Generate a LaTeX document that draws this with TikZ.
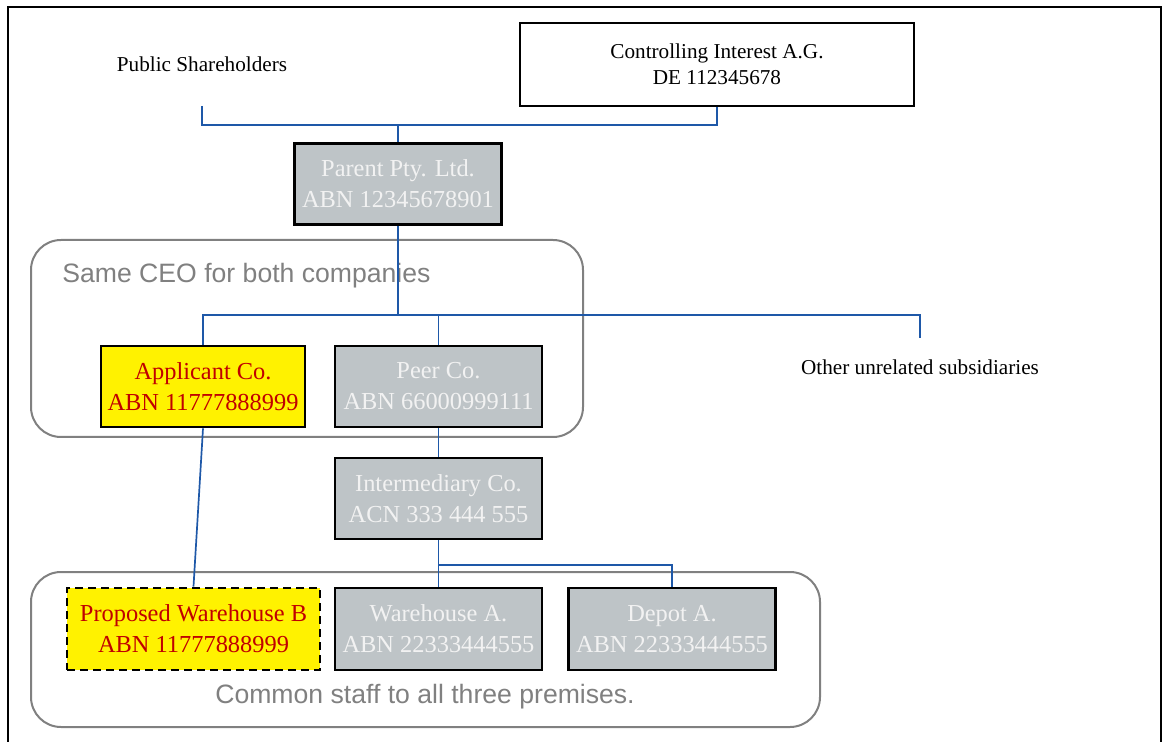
\documentclass[tikz,border=0pt]{standalone}
\usepackage{fontspec}
\setmainfont{Liberation Serif}
\newfontfamily\notefont{Liberation Sans}
\usetikzlibrary{positioning}
\definecolor{linkblue}{RGB}{30,88,168}
\definecolor{coygrey}{RGB}{190,196,199}
\definecolor{notegrey}{RGB}{128,128,128}
\definecolor{darkred}{RGB}{192,0,0}
\tikzset{
  plain/.style={font=\fontsize{10.6}{13}\selectfont, align=center, inner sep=0pt},
  ctrlbox/.style={plain, draw, line width=1.1pt, minimum width=197pt, minimum height=41.5pt},
  coybox/.style={draw, line width=1.4pt, fill=coygrey, text=white!95!black, align=center,
    inner sep=0pt, font=\fontsize{12.2}{15.5}\selectfont,
    minimum width=103.5pt, minimum height=40.5pt},
  ourbox/.style={coybox, fill=yellow, text=darkred},
  group/.style={draw=notegrey, line width=1pt, rounded corners=15pt},
  note/.style={text=notegrey, font=\notefont\fontsize{13.3}{16}\selectfont, inner sep=0pt},
  link/.style={draw=linkblue, line width=0.85pt}
}
\begin{document}
\begin{tikzpicture}[x=0.5pt,y=-0.5pt]
    \useasboundingbox (0,0) rectangle (1166,742);
    \draw[line width=1pt] (8,742) -- (8,7) -- (1161,7) -- (1161,742);

    % Groups %
    \draw[group] (31,240) rectangle (583,437);
    \draw[group] (31,572) rectangle (820,727);
    \node[note, anchor=west] (ceo) at (62,276) {Same CEO for both companies};
    \node[note] (staff) at (425,697) {Common staff to all three premises.};

    % Owners %
    \node[plain] (public) at (202,64) {Public Shareholders};
    \node[ctrlbox] (ctrl) at (717,64.5) {Controlling Interest A.G.\\DE 112345678};
    \node[coybox, minimum width=103.5pt] (parent) at (398,184) {Parent Pty. Ltd.\\ABN 12345678901};

    % Companies %
    \node[ourbox, minimum width=102pt] (applicant) at (203,386.5) {Applicant Co.\\ABN 11777888999};
    \node[coybox] (peer) at (438.5,386.5) {Peer Co.\\ABN 66000999111};
    \node[coybox] (inter) at (438.5,498.5) {Intermediary Co.\\ACN 333 444 555};
    \node[plain] (other) at (920,367) {Other unrelated subsidiaries};

    % Premises %
    \node[ourbox, dash pattern=on 4pt off 2.5pt, minimum width=126.5pt, minimum height=41pt] (propB) at (193.5,629) {Proposed Warehouse B\\ABN 11777888999};
    \node[coybox, minimum height=41pt] (whA) at (438.5,629) {Warehouse A.\\ABN 22333444555};
    \node[coybox, minimum height=41pt] (depot) at (672,629) {Depot A.\\ABN 22333444555};

    % Links %
    \coordinate (pubend) at (202,106);
    \coordinate (topjoin) at (398,125);
    \coordinate (midjoin) at (398,315);
    \coordinate (otherend) at (920,338);
    \coordinate (lowjoin) at (438.5,565);
    \draw[link] (pubend) |- (topjoin) -| (ctrl.south);
    \draw[link] (topjoin) -- (parent.north);
    \draw[link] (parent.south) -- (midjoin);
    \draw[link] (applicant.north) |- (otherend |- midjoin) -- (otherend);
    \draw[link] (peer.north) -- (peer.north |- midjoin);
    \draw[link] (peer.south) -- (inter.north);
    \draw[link] (inter.south) -- (whA.north);
    \draw[link] (lowjoin) -| (depot.north);
    \draw[link] (applicant.south) -- (propB.north);
\end{tikzpicture}
\end{document}
